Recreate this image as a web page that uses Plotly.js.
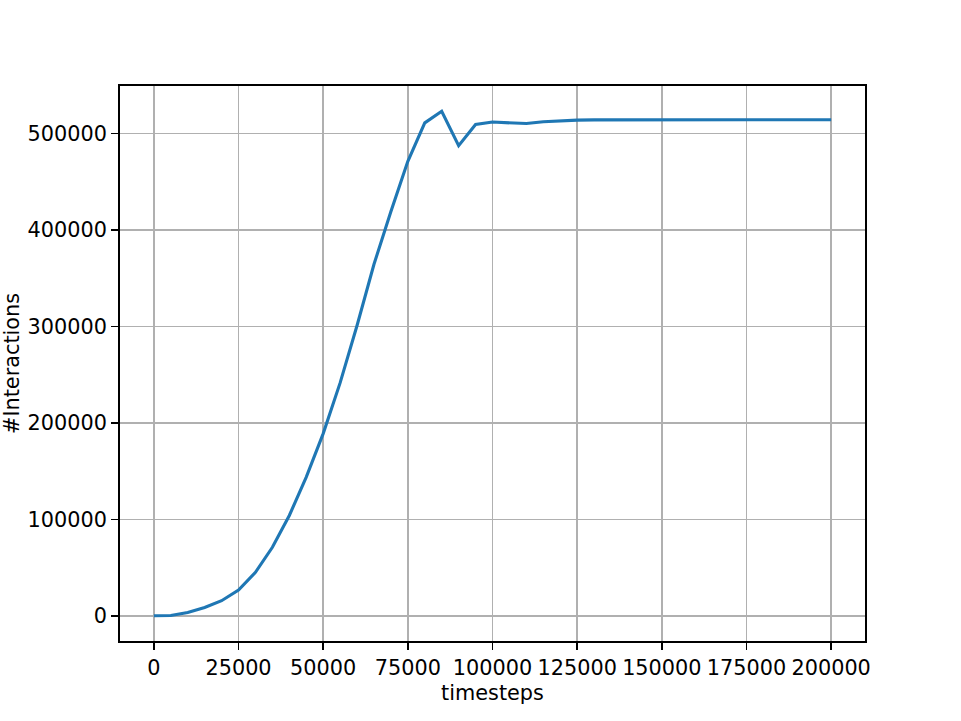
<!DOCTYPE html>
<html>
<head>
<meta charset="utf-8">
<script src="https://cdn.plot.ly/plotly-3.0.1.min.js"></script>
<style>html,body{margin:0;padding:0;background:#fff;}#chart{width:961px;height:721px;}</style>
</head>
<body>
<div id="chart"></div>
<script>
const timesteps = [0, 5000, 10000, 15000, 20000, 25000, 30000, 35000, 40000, 45000, 50000, 55000, 60000, 65000, 70000, 75000, 80000, 85000, 90000, 95000, 100000, 105000, 110000, 115000, 120000, 125000, 130000, 135000, 140000, 145000, 150000, 155000, 160000, 165000, 170000, 175000, 180000, 185000, 190000, 195000, 200000];
const interactions = [0, 300, 3400, 8600, 15600, 26700, 45000, 71000, 104000, 143800, 188900, 241500, 301000, 364500, 419200, 471200, 511100, 523200, 487500, 509400, 512000, 511200, 510400, 512300, 513400, 514000, 514200, 514300, 514300, 514300, 514300, 514300, 514300, 514400, 514400, 514400, 514400, 514400, 514400, 514400, 514400];
const xTicks = [0, 25000, 50000, 75000, 100000, 125000, 150000, 175000, 200000];
const yTicks = [0, 100000, 200000, 300000, 400000, 500000];

const font = {family: 'DejaVu Sans, sans-serif', size: 20.8, color: '#000'};
const axisCommon = {
  showline: true, mirror: true, linecolor: '#000', linewidth: 1.67,
  ticks: 'outside', ticklen: 7.3, tickwidth: 1.67, tickcolor: '#000',
  showgrid: true, gridcolor: '#b0b0b0', gridwidth: 1.67,
  zeroline: false, tickformat: 'd', tickfont: font
};
const layout = {
  width: 961, height: 721,
  margin: {l: 120, r: 96, t: 86, b: 80},
  paper_bgcolor: '#fff', plot_bgcolor: '#fff',
  font: font,
  showlegend: false,
  xaxis: Object.assign({}, axisCommon, {
    range: [-10000, 210000], tickmode: 'array', tickvals: xTicks,
    title: {text: 'timesteps', font: font, standoff: 6}
  }),
  yaxis: Object.assign({}, axisCommon, {
    range: [-26160, 549360], tickmode: 'array', tickvals: yTicks,
    title: {text: '#Interactions', font: font, standoff: 8}
  })
};
const data = [{
  x: timesteps, y: interactions, type: 'scatter', mode: 'lines',
  line: {color: '#1f77b4', width: 3.1}
}];
Plotly.newPlot('chart', data, layout, {displayModeBar: false, staticPlot: true});
</script>
</body>
</html>
